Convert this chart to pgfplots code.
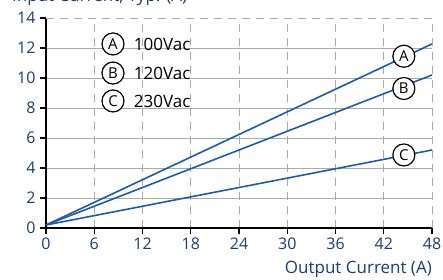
\documentclass[border=0pt]{standalone}
\usepackage{pgfplots}
\pgfplotsset{compat=1.18}
\usepackage{fontspec}
\setmainfont{Open Sans}
\definecolor{lblue}{HTML}{1F5AA8}
\definecolor{tblue}{HTML}{1B3E72}
\definecolor{grd}{HTML}{ABABAB}
\begin{document}
\begin{tikzpicture}
\path[use as bounding box] (-46pt,-51pt) rectangle (397pt,228pt);
\begin{axis}[
 at={(0,0)}, anchor=south west,
 scale only axis, width=386pt, height=210pt,
 xmin=0,xmax=48,ymin=0,ymax=14,
 axis x line*=bottom, axis y line*=left,
 axis line style={black, line width=1.2pt},
 xtick={0,6,...,48}, ytick={0,2,...,12},
 extra y ticks={14},
 extra y tick style={grid style={grd, line width=1pt, dash pattern=on 8pt off 6pt}},
 tick align=outside, major tick length=6pt,
 tick style={black, line width=1.1pt},
 grid=major,
 x grid style={grd, line width=1pt, dash pattern=on 8pt off 6pt},
 y grid style={grd, line width=1pt},
 ticklabel style={text=tblue, font=\fontsize{16}{16}\selectfont},
 yticklabel style={xshift=-1pt},
 /pgf/number format/assume math mode=true,
 clip=false,
]
\addplot[lblue, line width=1.6pt] coordinates {(0,0.2) (48,12.27)};
\addplot[lblue, line width=1.6pt] coordinates {(0,0.2) (48,10.2)};
\addplot[lblue, line width=1.6pt] coordinates {(0,0.2) (48,5.2)};
\tikzset{lab/.style={draw=black, line width=1.2pt, circle, fill=white, inner sep=0pt, minimum size=22pt, font=\fontsize{15}{15}\selectfont}}
\node[lab] at (axis cs:8.33,12.27) {A};
\node[lab] at (axis cs:8.33,10.33) {B};
\node[lab] at (axis cs:8.33,8.47) {C};
\node[anchor=west, inner sep=0pt, font=\fontsize{17}{17}\selectfont] at (axis cs:10.9,12.27) {100Vac};
\node[anchor=west, inner sep=0pt, font=\fontsize{17}{17}\selectfont] at (axis cs:10.9,10.33) {120Vac};
\node[anchor=west, inner sep=0pt, font=\fontsize{17}{17}\selectfont] at (axis cs:10.9,8.47) {230Vac};
\node[lab] at (axis cs:44.5,11.45) {A};
\node[lab] at (axis cs:44.5,9.3) {B};
\node[lab] at (axis cs:44.5,4.87) {C};
\end{axis}
\node[anchor=base east, inner sep=0pt, text=tblue, font=\fontsize{17}{17}\selectfont] at (386pt,-45pt) {Output Current (A)};
\node[anchor=base west, inner sep=0pt, text=tblue, font=\fontsize{17}{17}\selectfont] at (-34pt,226pt) {Input Current, Typ. (A)};
\end{tikzpicture}
\end{document}
